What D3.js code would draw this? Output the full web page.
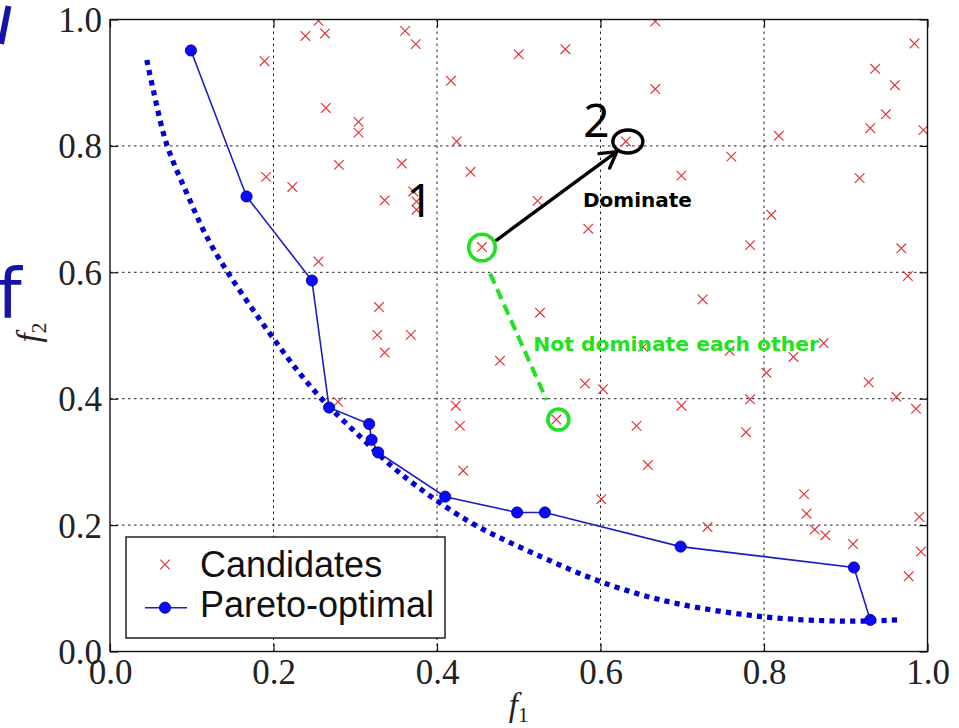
<!DOCTYPE html>
<html>
<head>
<meta charset="utf-8">
<script src="https://cdn.jsdelivr.net/npm/d3@7"></script>
<style>
  html, body { margin: 0; padding: 0; background: #fff; overflow: hidden; }
</style>
</head>
<body>
<svg id="chart" width="959" height="728"></svg>
<script>
// Candidate solutions (f1, f2)
const candidateF1 = [0.255, 0.239, 0.263, 0.361, 0.374, 0.189, 0.264, 0.304, 0.304, 0.417,
                     0.424, 0.500, 0.557, 0.191, 0.223, 0.280, 0.357, 0.441, 0.336, 0.371,
                     0.375, 0.375, 0.523, 0.585, 0.631, 0.455, 0.667, 0.667, 0.760, 0.699,
                     0.818, 0.984, 0.936, 0.960, 0.949, 0.930, 0.995, 0.917, 0.809, 0.783,
                     0.968, 0.976, 0.255, 0.329, 0.327, 0.368, 0.336, 0.279, 0.423, 0.428,
                     0.432, 0.526, 0.477, 0.581, 0.603, 0.546, 0.725, 0.652, 0.758, 0.873,
                     0.836, 0.803, 0.928, 0.962, 0.986, 0.783, 0.699, 0.644, 0.778, 0.658,
                     0.601, 0.849, 0.852, 0.862, 0.875, 0.909, 0.990, 0.992, 0.977, 0.731];
const candidateF2 = [0.998, 0.974, 0.978, 0.982, 0.961, 0.934, 0.860, 0.838, 0.821, 0.903,
                     0.807, 0.945, 0.953, 0.751, 0.735, 0.770, 0.772, 0.759, 0.714, 0.728,
                     0.712, 0.699, 0.713, 0.669, 0.807, 0.640, 0.997, 0.890, 0.783, 0.753,
                     0.816, 0.962, 0.922, 0.896, 0.850, 0.828, 0.825, 0.749, 0.691, 0.643,
                     0.638, 0.594, 0.617, 0.545, 0.501, 0.501, 0.473, 0.395, 0.389, 0.357,
                     0.286, 0.536, 0.460, 0.424, 0.415, 0.367, 0.557, 0.482, 0.476, 0.488,
                     0.466, 0.441, 0.426, 0.403, 0.384, 0.399, 0.389, 0.357, 0.347, 0.295,
                     0.241, 0.249, 0.218, 0.193, 0.184, 0.170, 0.213, 0.158, 0.119, 0.197];

// Non-dominated (Pareto-optimal) candidates
const paretoF1 = [0.099, 0.167, 0.247, 0.268, 0.317, 0.320, 0.328, 0.410, 0.498, 0.532, 0.698, 0.910, 0.930];
const paretoF2 = [0.951, 0.720, 0.587, 0.386, 0.360, 0.335, 0.315, 0.245, 0.220, 0.220, 0.166, 0.133, 0.050];

// True Pareto front (dotted curve)
const frontF1 = [0.045, 0.053, 0.069, 0.094, 0.126, 0.204, 0.253, 0.306, 0.355, 0.436, 0.517, 0.612, 0.693, 0.799, 0.897, 0.964];
const frontF2 = [0.936, 0.888, 0.804, 0.725, 0.638, 0.488, 0.408, 0.340, 0.282, 0.208, 0.156, 0.105, 0.076, 0.055, 0.048, 0.050];

const tickValues = [0.0, 0.2, 0.4, 0.6, 0.8, 1.0];
const legendLabels = ["Candidates", "Pareto-optimal"];

// Annotation anchors in (f1, f2) units
const dominateFrom = [0.473, 0.651];
const dominateTo = [0.620, 0.791];
const dominatedPoint = [0.631, 0.807];
const pairA = [0.455, 0.640];
const pairB = [0.546, 0.367];
const pairLineFrom = [0.465, 0.598];
const pairLineTo = [0.534, 0.398];

const svg = d3.select("#chart");
const x = d3.scaleLinear().domain([0, 1]).range([110, 927.5]);
const y = d3.scaleLinear().domain([0, 1]).range([651.5, 19.5]);
const [x0, x1] = x.range();
const [y0, y1] = y.range();

const RED = "#e2363d", BLUE = "#0a0aff", LINE_BLUE = "#1c1cc4", DOT_BLUE = "#0000d2", GREEN = "#22e022";

svg.append("defs").append("clipPath").attr("id", "plot-clip")
  .append("rect").attr("x", x0).attr("y", y1).attr("width", x1 - x0).attr("height", y0 - y1);

// Grid
const grid = svg.append("g");
tickValues.filter(v => v > 0 && v < 1).forEach(v => {
  grid.append("line").attr("x1", x(v)).attr("x2", x(v)).attr("y1", y1).attr("y2", y0)
    .attr("stroke", "#222").attr("stroke-width", 1).attr("stroke-dasharray", "2.5,3.5");
  grid.append("line").attr("x1", x0).attr("x2", x1).attr("y1", y(v)).attr("y2", y(v))
    .attr("stroke", "#222").attr("stroke-width", 1).attr("stroke-dasharray", "2.5,3.5");
});

const plot = svg.append("g").attr("clip-path", "url(#plot-clip)");

// Candidate markers
const cross = (g, cx, cy, s) => g.append("path")
  .attr("d", `M${cx - s},${cy - s}L${cx + s},${cy + s}M${cx - s},${cy + s}L${cx + s},${cy - s}`)
  .attr("stroke", RED).attr("stroke-width", 1.2).attr("fill", "none");
candidateF1.forEach((f1, i) => cross(plot, x(f1), y(candidateF2[i]), 4.8));

// True front
const front = frontF1.map((f1, i) => [f1, frontF2[i]]);
plot.append("path").datum(front)
  .attr("d", d3.line().x(d => x(d[0])).y(d => y(d[1])).curve(d3.curveCatmullRom.alpha(0.5)))
  .attr("fill", "none").attr("stroke", DOT_BLUE).attr("stroke-width", 5.2)
  .attr("stroke-dasharray", "5.2,5.2");

// Pareto-optimal set
const pareto = paretoF1.map((f1, i) => [f1, paretoF2[i]]);
plot.append("path").datum(pareto)
  .attr("d", d3.line().x(d => x(d[0])).y(d => y(d[1])))
  .attr("fill", "none").attr("stroke", LINE_BLUE).attr("stroke-width", 1.6);
plot.selectAll("circle.pareto").data(pareto).join("circle")
  .attr("class", "pareto")
  .attr("cx", d => x(d[0])).attr("cy", d => y(d[1])).attr("r", 5.6)
  .attr("fill", BLUE).attr("stroke", "#00007a").attr("stroke-width", 0.8);

// Axes: ticks inward on all four sides
const fmt = d3.format(".1f");
const styleAxis = g => {
  g.select(".domain").remove();
  g.selectAll(".tick line").attr("stroke", "#111").attr("stroke-width", 1.2);
  g.selectAll("text").attr("font-family", "'Liberation Serif', 'DejaVu Serif', serif")
    .attr("font-size", 35).attr("fill", "#222");
};
svg.append("g").attr("transform", `translate(0,${y0})`)
  .call(d3.axisBottom(x).tickValues(tickValues).tickFormat(fmt).tickSize(-8).tickPadding(8))
  .call(styleAxis)
  .call(g => g.selectAll("text").attr("y", 7).attr("dy", "0.72em"));
svg.append("g").attr("transform", `translate(0,${y1})`)
  .call(d3.axisTop(x).tickValues(tickValues).tickFormat("").tickSize(-8)).call(styleAxis);
svg.append("g").attr("transform", `translate(${x0},0)`)
  .call(d3.axisLeft(y).tickValues(tickValues).tickFormat(fmt).tickSize(-8).tickPadding(8))
  .call(styleAxis)
  .call(g => g.selectAll("text").attr("x", -8).attr("dy", "0.34em"));
svg.append("g").attr("transform", `translate(${x1},0)`)
  .call(d3.axisRight(y).tickValues(tickValues).tickFormat("").tickSize(-8)).call(styleAxis);

// Frame
svg.append("rect").attr("x", x0).attr("y", y1).attr("width", x1 - x0).attr("height", y0 - y1)
  .attr("fill", "none").attr("stroke", "#111").attr("stroke-width", 1.4);

// Axis titles
const serif = "'Liberation Serif', 'DejaVu Serif', serif";
const t1 = svg.append("text").attr("x", (x0 + x1) / 2).attr("y", 716)
  .attr("text-anchor", "middle").attr("font-family", serif).attr("fill", "#222");
t1.append("tspan").attr("font-style", "italic").attr("font-size", 33).text("f");
t1.append("tspan").attr("font-size", 22).attr("dy", 6).text("1");
const t2 = svg.append("text").attr("transform", `translate(40,${(y0 + y1) / 2 - 3}) rotate(-90)`)
  .attr("text-anchor", "middle").attr("font-family", serif).attr("fill", "#222");
t2.append("tspan").attr("font-style", "italic").attr("font-size", 33).text("f");
t2.append("tspan").attr("font-size", 22).attr("dy", 6).text("2");

// Dominance annotation
const ann = svg.append("g");
ann.append("ellipse").attr("cx", x(dominatedPoint[0]) + 2).attr("cy", y(dominatedPoint[1]))
  .attr("rx", 15).attr("ry", 11.5).attr("fill", "none").attr("stroke", "#000").attr("stroke-width", 3.4);
const ax0 = x(dominateFrom[0]), ay0 = y(dominateFrom[1]);
const ax1 = x(dominateTo[0]), ay1 = y(dominateTo[1]);
const ang = Math.atan2(ay1 - ay0, ax1 - ax0);
const head = 18, spread = Math.PI / 6;
ann.append("path")
  .attr("d", `M${ax0},${ay0}L${ax1},${ay1}` +
    `M${ax1 - head * Math.cos(ang - spread)},${ay1 - head * Math.sin(ang - spread)}L${ax1},${ay1}` +
    `L${ax1 - head * Math.cos(ang + spread)},${ay1 - head * Math.sin(ang + spread)}`)
  .attr("fill", "none").attr("stroke", "#000").attr("stroke-width", 3.4)
  .attr("stroke-linecap", "round").attr("stroke-linejoin", "round");
ann.append("text").attr("x", x(0.5786)).attr("y", y(0.7033))
  .attr("font-family", "'DejaVu Sans', sans-serif").attr("font-weight", "bold")
  .attr("font-size", 20).attr("fill", "#000").text("Dominate");

// Mutually non-dominated pair
ann.append("circle").attr("cx", x(pairA[0])).attr("cy", y(pairA[1]) + 0.5).attr("r", 13.3)
  .attr("fill", "none").attr("stroke", GREEN).attr("stroke-width", 3.6);
ann.append("circle").attr("cx", x(pairB[0]) + 2).attr("cy", y(pairB[1])).attr("r", 10.5)
  .attr("fill", "none").attr("stroke", GREEN).attr("stroke-width", 3.6);
ann.append("line").attr("x1", x(pairLineFrom[0])).attr("y1", y(pairLineFrom[1]))
  .attr("x2", x(pairLineTo[0])).attr("y2", y(pairLineTo[1]))
  .attr("stroke", GREEN).attr("stroke-width", 4).attr("stroke-dasharray", "11,6");
ann.append("text").attr("x", x(0.5178)).attr("y", y(0.4747))
  .attr("font-family", "'DejaVu Sans', sans-serif").attr("font-weight", "bold")
  .attr("font-size", 20.3).attr("fill", GREEN).text("Not dominate each other");

// Point numbers
ann.append("text").attr("x", x(0.3792)).attr("y", y(0.6875)).attr("text-anchor", "middle")
  .attr("font-family", "'Noto Sans', sans-serif").attr("font-size", 46).attr("fill", "#000").text("1");
ann.append("text").attr("x", x(0.5951)).attr("y", y(0.8141)).attr("text-anchor", "middle")
  .attr("font-family", "'Noto Sans', sans-serif").attr("font-size", 46).attr("fill", "#000").text("2");

// Legend
const lg = svg.append("g");
lg.append("rect").attr("x", 126).attr("y", 537).attr("width", 319).attr("height", 101)
  .attr("fill", "#fff").attr("stroke", "#111").attr("stroke-width", 1.4);
cross(lg, 165, 564.5, 4.8);
lg.append("line").attr("x1", 145).attr("x2", 187).attr("y1", 607.7).attr("y2", 607.7)
  .attr("stroke", LINE_BLUE).attr("stroke-width", 1.6);
lg.append("circle").attr("cx", 165).attr("cy", 607.7).attr("r", 5.6)
  .attr("fill", BLUE).attr("stroke", "#00007a").attr("stroke-width", 0.8);
legendLabels.forEach((label, i) => {
  lg.append("text").attr("x", 200).attr("y", 577 + i * 39.7)
    .attr("font-family", "'Liberation Sans', Arial, sans-serif").attr("font-size", 36)
    .attr("fill", "#111").text(label);
});

// Slide text cut off at the left edge
svg.append("text").attr("x", -3).attr("y", 318)
  .attr("font-family", "'DejaVu Sans', sans-serif").attr("font-size", 70)
  .attr("fill", "#1414a8").text("f");
svg.append("path").attr("d", "M8.5,6 L1,44").attr("stroke", "#1414a8").attr("stroke-width", 6);
</script>
</body>
</html>
